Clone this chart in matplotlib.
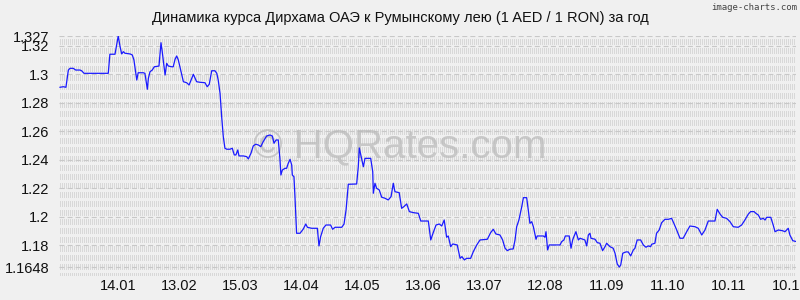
import matplotlib
matplotlib.use("Agg")
import matplotlib.pyplot as plt
from matplotlib.collections import LineCollection
import numpy as np

plt.rcParams['font.family'] = ['Liberation Sans', 'DejaVu Sans']
plt.rcParams['lines.scale_dashes'] = False

title = "Динамика курса Дирхама ОАЭ к Румынскому лею (1 AED / 1 RON) за год"

# day offsets from the start of the period and AED/RON rate
days = [0.5, 2.1, 3.4, 4.6, 5.4, 7.0, 8.2, 10.3, 11.1, 12.3, 24.2, 25.0, 27.5, 29.1, 30.0, 30.8,
        31.6, 32.4, 34.9, 36.0, 36.8, 38.2, 38.9, 41.4, 42.2, 42.7, 43.4, 43.9, 44.7, 45.8, 46.8,
        49.1, 50.1, 50.7, 52.1, 52.9, 53.7, 55.4, 56.1, 57.0, 57.8, 58.6, 59.4, 61.1, 62.7, 63.9,
        66.0, 67.6, 69.3, 71.7, 72.8, 73.8, 75.0, 76.6, 77.5, 78.2, 79.1, 79.9, 80.7, 81.5, 82.4,
        84.0, 85.1, 86.1, 86.9, 87.8, 88.4, 90.5, 92.2, 93.0, 94.3, 95.4, 96.6, 97.9, 99.1, 100.3,
        102.0, 103.6, 104.8, 105.6, 106.6, 107.7, 108.5, 109.0, 109.7, 111.0, 111.8, 112.6, 113.5,
        114.3, 114.6, 115.4, 115.9, 116.7, 118.4, 120.0, 121.2, 122.0, 124.1, 126.9, 127.7, 128.5,
        129.8, 131.1, 133.4, 134.4, 135.6, 138.9, 140.0, 141.0, 142.1, 146.2, 147.0, 147.5, 149.5,
        150.3, 153.1, 154.1, 154.4, 155.2, 156.0, 157.3, 158.5, 160.1, 161.7, 163.1, 164.2, 165.0,
        167.1, 168.3, 169.4, 170.8, 172.1, 174.0, 176.5, 177.7, 181.4, 182.6, 183.8, 185.2, 186.8,
        188.0, 189.2, 190.4, 191.2, 192.4, 193.4, 195.6, 197.0, 197.9, 199.1, 200.2, 202.2, 203.5,
        205.2, 206.8, 210.4, 212.0, 213.3, 214.6, 216.6, 217.9, 219.1, 220.2, 221.5, 223.1, 224.0,
        224.8, 225.9, 227.3, 228.1, 229.7, 230.5, 231.3, 232.2, 233.0, 234.3, 234.9, 237.9, 238.7,
        239.2, 240.0, 240.8, 246.1, 246.9, 248.0, 248.7, 250.6, 251.5, 252.3, 252.9, 253.9, 255.1,
        255.9, 258.3, 259.2, 260.0, 260.8, 261.3, 263.3, 264.4, 265.7, 267.0, 268.2, 269.0, 270.6,
        272.2, 273.1, 274.2, 275.2, 275.9, 276.9, 278.5, 279.6, 280.8, 282.1, 282.9, 284.0, 285.7,
        287.0, 288.3, 289.4, 290.6, 291.1, 292.7, 293.5, 294.8, 296.0, 297.6, 299.3, 300.9, 302.0,
        303.4, 305.0, 306.6, 308.3, 309.9, 312.4, 314.0, 315.7, 317.3, 318.9, 322.2, 323.3, 324.7,
        326.0, 327.9, 329.6, 331.2, 333.6, 335.3, 336.9, 338.6, 339.7, 341.4, 342.3, 343.5, 344.6,
        345.9, 346.8, 347.6, 349.6, 350.8, 351.7, 353.3, 355.4, 356.6, 358.2, 359.0, 360.4, 362.3]

rates = [1.2910, 1.2914, 1.2910, 1.3031, 1.3043, 1.3043, 1.3031, 1.3031, 1.3026, 1.3008, 1.3008,
         1.3142, 1.3142, 1.3270, 1.3195, 1.3144, 1.3160, 1.3149, 1.3144, 1.3137, 1.3102, 1.2961,
         1.3012, 1.3012, 1.3008, 1.2961, 1.2896, 1.2973, 1.3019, 1.3031, 1.3054, 1.3059, 1.3223,
         1.3160, 1.2996, 1.3078, 1.3059, 1.3054, 1.3054, 1.3106, 1.3130, 1.3102, 1.3054, 1.2949,
         1.2942, 1.2926, 1.3001, 1.2949, 1.2945, 1.2942, 1.2914, 1.2931, 1.3026, 1.3026, 1.3008,
         1.2961, 1.2868, 1.2703, 1.2563, 1.2482, 1.2475, 1.2475, 1.2482, 1.2435, 1.2435, 1.2470,
         1.2428, 1.2428, 1.2423, 1.2407, 1.2447, 1.2498, 1.2510, 1.2505, 1.2493, 1.2528, 1.2568,
         1.2575, 1.2568, 1.2517, 1.2540, 1.2540, 1.2411, 1.2294, 1.2329, 1.2341, 1.2341, 1.2376,
         1.2404, 1.2364, 1.2294, 1.2282, 1.2142, 1.1885, 1.1885, 1.1915, 1.1950, 1.1927, 1.1920,
         1.1920, 1.1796, 1.1861, 1.1920, 1.1943, 1.1943, 1.1913, 1.1927, 1.1927, 1.1950, 1.2049,
         1.2229, 1.2231, 1.2352, 1.2484, 1.2352, 1.2411, 1.2411, 1.2317, 1.2166, 1.2236, 1.2201,
         1.2189, 1.2138, 1.2131, 1.2119, 1.2142, 1.2236, 1.2177, 1.2170, 1.2060, 1.2072, 1.2091,
         1.2037, 1.2030, 1.2025, 1.1971, 1.1971, 1.1838, 1.1889, 1.1943, 1.1950, 1.1936, 1.1978,
         1.1857, 1.1866, 1.1791, 1.1810, 1.1803, 1.1709, 1.1721, 1.1698, 1.1709, 1.1709, 1.1756,
         1.1803, 1.1838, 1.1843, 1.1889, 1.1913, 1.1880, 1.1873, 1.1838, 1.1780, 1.1763, 1.1773,
         1.1775, 1.1838, 1.1931, 1.1978, 1.2072, 1.2135, 1.2135, 1.2049, 1.1955, 1.1966, 1.1931,
         1.1843, 1.1866, 1.1866, 1.1857, 1.1896, 1.1768, 1.1803, 1.1803, 1.1826, 1.1838, 1.1866,
         1.1866, 1.1780, 1.1838, 1.1861, 1.1896, 1.1838, 1.1850, 1.1838, 1.1796, 1.1873, 1.1885,
         1.1850, 1.1843, 1.1819, 1.1815, 1.1763, 1.1791, 1.1815, 1.1791, 1.1780, 1.1745, 1.1669,
         1.1648, 1.1662, 1.1745, 1.1754, 1.1754, 1.1726, 1.1768, 1.1780, 1.1838, 1.1838, 1.1803,
         1.1787, 1.1796, 1.1791, 1.1808, 1.1815, 1.1885, 1.1908, 1.1959, 1.1983, 1.1983, 1.1990,
         1.1955, 1.1908, 1.1850, 1.1850, 1.1896, 1.1936, 1.1931, 1.1920, 1.1873, 1.1908, 1.1971,
         1.1971, 1.2053, 1.2020, 1.1997, 1.1990, 1.1966, 1.1931, 1.1927, 1.1943, 1.1978, 1.2020,
         1.2037, 1.2037, 1.2025, 1.2013, 1.1983, 1.1990, 1.1978, 1.1997, 1.1997, 1.1943, 1.1896,
         1.1908, 1.1903, 1.1896, 1.1920, 1.1873, 1.1833, 1.1826]

xtick_days = [29, 59, 89, 119, 149, 179, 209, 239, 269, 299, 329, 359]
xtick_labels = ["14.01", "13.02", "15.03", "14.04", "14.05", "13.06", "13.07",
                "12.08", "11.09", "11.10", "10.11", "10.12"]
ytick_vals = [1.1648, 1.18, 1.2, 1.22, 1.24, 1.26, 1.28, 1.3, 1.32, 1.327]
ytick_labels = ["1.1648", "1.18", "1.2", "1.22", "1.24", "1.26", "1.28", "1.3", "1.32", "1.327"]

bg = '#f0f0f0'
fig = plt.figure(figsize=(8, 3), dpi=100, facecolor=bg)
ax = fig.add_axes([0.07375, 0.08, 0.92125, 0.80])
ax.set_facecolor(bg)
ax.set_xlim(0, 362)
ax.set_ylim(1.1585, 1.327)
for s in ax.spines.values():
    s.set_visible(False)

# dotted texture: dense short vertical dashes
W = 737.0
xs = np.arange(1, 737, 2) / W
segs = [[(x, 0), (x, 1)] for x in xs]
lc = LineCollection(segs, transform=ax.transAxes, colors='#d8d8d8',
                    linewidths=0.72, linestyles=[(1.5, (3.6, 2.2))], antialiaseds=False, zorder=0)
ax.add_collection(lc)

# horizontal dashed grid at tick values
for v in ytick_vals:
    ax.axhline(v, color='#c8c8c8', lw=0.8, ls=(0, (3.6, 2.2)), zorder=1)

ax.set_xticks(xtick_days)
ax.set_xticklabels(xtick_labels)
ax.set_yticks(ytick_vals)
ax.set_yticklabels(ytick_labels)
ax.tick_params(axis='both', length=0, labelsize=10.5, colors='#111111')
ax.tick_params(axis='y', pad=7)
ax.tick_params(axis='x', pad=2)

ax.text(0.463, 0.535, "© HQRates.com", transform=ax.transAxes, ha='center', va='center',
        fontsize=29, color='#b8b8b8', alpha=0.7, zorder=2)

ax.plot(days, rates, color='#1a1aff', lw=0.9, zorder=3)

fig.text(0.5, 0.94, title, ha='center', va='center', fontsize=10.5, color='#111111')
fig.text(0.996, 0.975, "image-charts.com", ha='right', va='center', fontsize=6.5,
         color='#444444', family='DejaVu Sans Mono')

fig.savefig("out.png", dpi=100, facecolor=bg)
